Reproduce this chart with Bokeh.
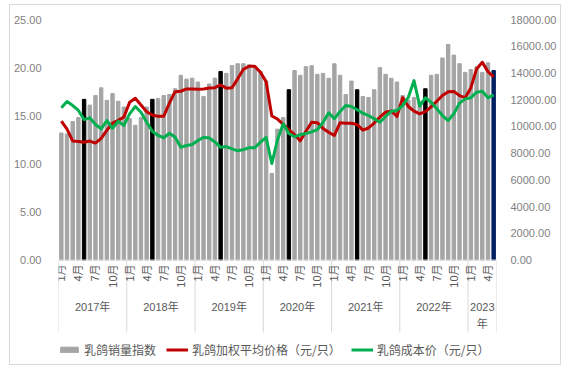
import math
from bokeh.plotting import figure
from bokeh.models import (Range1d, LinearAxis, FixedTicker, Legend, LegendItem,
                          ColumnDataSource, NumeralTickFormatter, Span)
from bokeh.embed import file_html
from bokeh.resources import INLINE
from bokeh.core.properties import value

# ---------------- data ----------------
years = ["2017年", "2018年", "2019年", "2020年", "2021年", "2022年", "2023\n年"]
months_per_year = [12, 12, 12, 12, 12, 12, 5]
shown_months = [1, 4, 7, 10]
series_names = ["乳鸽销量指数", "乳鸽加权平均价格（元/只）", "乳鸽成本价（元/只）"]

# 乳鸽销量指数 (left axis)
sales_index = [13.2, 13.1, 14.4, 14.8, 16.7, 16.1, 17.1, 17.9, 16.6, 17.3, 16.5, 15.9,
               14.7, 14.0, 14.8, 15.9, 16.7, 16.8, 17.1, 17.2, 17.8, 19.2, 18.8, 18.9,
               18.5, 17.0, 18.3, 18.9, 19.6, 19.4, 20.2, 20.4, 20.4, 20.3, 20.0, 19.6,
               18.6, 9.0, 13.6, 14.8, 17.7, 19.7, 19.2, 20.1, 20.2, 19.3, 19.4, 18.9,
               20.4, 19.2, 17.2, 18.6, 17.7, 17.0, 16.9, 17.7, 20.0, 19.3, 18.9, 18.5,
               17.1, 16.6, 16.9, 16.5, 17.8, 19.2, 19.3, 21.0, 22.4, 21.3, 20.4, 19.5,
               19.8, 20.1, 19.5, 20.5, 19.7]

# 乳鸽加权平均价格（元/只） (right axis)
avg_price = [10400, 9800, 8900, 8870, 8820, 8900, 8750, 9100, 9700, 10250, 10450, 10700,
             11800, 12100, 11600, 11100, 10850, 10750, 10760, 11750, 12600, 12630, 12800, 12800,
             12780, 12800, 12870, 12900, 13100, 12860, 12890, 13560, 14270, 14500, 14500, 14050,
             13350, 10780, 10550, 10150, 9750, 9380, 8920, 9630, 10310, 10280, 9850, 9560,
             9320, 10280, 10240, 10240, 10140, 9720, 9880, 10250, 10700, 11060, 11160, 10750,
             12150, 11490, 11140, 10940, 11100, 11460, 11880, 12310, 12600, 12620, 12300, 12150,
             12900, 14300, 14800, 14100, 13700]

# 乳鸽成本价（元/只） (right axis)
cost_price = [11400, 11860, 11560, 11190, 10510, 10640, 10140, 9820, 10440, 9860, 10390, 10070,
              10940, 11490, 11060, 10310, 9640, 9320, 9150, 9490, 9190, 8440, 8570, 8640,
              8940, 9190, 9130, 8840, 8430, 8490, 8320, 8170, 8260, 8400, 8400, 8820,
              9170, 7220, 9000, 10190, 9470, 9220, 9380, 9470, 9590, 9760, 10290, 11020,
              10570, 11120, 11560, 11490, 11250, 10990, 10810, 10570, 10310, 10740, 11140, 11190,
              11560, 12180, 13430, 11520, 12140, 11810, 11320, 10810, 10440, 10940, 11740, 12060,
              12140, 12560, 12630, 12140, 12360]

left_ticks = [0, 5, 10, 15, 20, 25]
right_ticks = [0, 2000, 4000, 6000, 8000, 10000, 12000, 14000, 16000, 18000]

# ---------------- derived ----------------
n = len(sales_index)
xs = list(range(n))
month_of = []
for cnt in months_per_year:
    month_of += list(range(1, cnt + 1))

GRAY, BLACK, NAVY = "#A5A5A5", "#000000", "#002060"
RED, GREEN = "#C00000", "#00B050"
colors = [BLACK if m == 5 else GRAY for m in month_of]
colors[-1] = NAVY

LEFT_MAX, RIGHT_MAX = left_ticks[-1], right_ticks[-1]
# layout in canvas px (canvas placed at page offset 10,5 inside a 1px border)
W, H = 552, 361
TOP_PX, ZERO_PX, BOT_PX = 14, 254.5, H
ppu = (ZERO_PX - TOP_PX) / LEFT_MAX
y_low = -(BOT_PX - ZERO_PX) / ppu

p = figure(width=W, height=H, output_backend="svg", toolbar_location=None,
           x_range=Range1d(-0.5, n - 0.5), y_range=Range1d(y_low, LEFT_MAX),
           x_axis_location=None, y_axis_location="left",
           min_border_left=48, min_border_right=66, min_border_top=TOP_PX,
           min_border_bottom=0)
p.extra_y_ranges = {"r": Range1d(y_low * RIGHT_MAX / LEFT_MAX, RIGHT_MAX)}
p.outline_line_color = None
p.xgrid.visible = False
p.ygrid.visible = False
p.background_fill_color = "white"
p.border_fill_color = "white"
p.styles = {"border": "1px solid #D9D9D9", "margin-left": "9px", "margin-top": "4px"}

NUM_FONT = "Liberation Sans, Noto Sans CJK SC"
CJK_FONT = "Noto Sans CJK SC"

ly = p.yaxis[0]
ly.ticker = FixedTicker(ticks=left_ticks)
ly.formatter = NumeralTickFormatter(format="0.00")
ly.axis_line_color = None
ly.major_tick_line_color = None
ly.minor_tick_line_color = None
ly.major_label_standoff = 11
ly.major_label_text_font = NUM_FONT
ly.major_label_text_font_size = "11px"
ly.major_label_text_color = "#7F7F7F"

ry = LinearAxis(y_range_name="r", ticker=FixedTicker(ticks=right_ticks),
                formatter=NumeralTickFormatter(format="0.00"))
ry.axis_line_color = None
ry.major_tick_line_color = None
ry.minor_tick_line_color = None
ry.major_label_standoff = 8
ry.major_label_text_font = NUM_FONT
ry.major_label_text_font_size = "11px"
ry.major_label_text_color = "#7F7F7F"
p.add_layout(ry, "right")

# baseline
p.add_layout(Span(location=0, dimension="width", line_color="#D9D9D9", line_width=1))

src = ColumnDataSource(dict(x=xs, sales=sales_index, price=avg_price, cost=cost_price,
                            color=colors))
bars = p.vbar(x="x", top="sales", width=0.6, color="color", source=src)
red = p.line(x="x", y="price", y_range_name="r", source=src, line_color=RED,
             line_width=3, line_join="round")
green = p.line(x="x", y="cost", y_range_name="r", source=src, line_color=GREEN,
               line_width=3, line_join="round")

# category separators
starts = [0]
for cnt in months_per_year:
    starts.append(starts[-1] + cnt)
sep_x = [s - 0.5 for s in starts]
sep_bottom = -72.5 / ppu
p.segment(x0=sep_x, x1=sep_x, y0=[0] * len(sep_x), y1=[sep_bottom] * len(sep_x),
          line_color="#D9D9D9", line_width=1)

# month labels
ml_x = [i for i in xs if month_of[i] in shown_months]
ml_t = [f"{month_of[i]}月" for i in ml_x]
p.text(x=ml_x, y=[-(4.5 / ppu)] * len(ml_x), text=ml_t, angle=math.pi / 2,
       text_align="right", text_baseline="middle", text_font=value(NUM_FONT),
       text_font_size="11px", text_color="#595959")

# year labels
yl_x = [starts[k] + (months_per_year[k] - 1) / 2 for k in range(len(years))]
p.text(x=yl_x, y=[-(41 / ppu)] * len(years), text=years, text_align="center",
       text_baseline="top", text_font=value(NUM_FONT), text_font_size="11px",
       text_color="#595959", text_line_height=1.4)

legend = Legend(items=[
    LegendItem(label=series_names[0], renderers=[bars], index=0),
    LegendItem(label=series_names[1], renderers=[red]),
    LegendItem(label=series_names[2], renderers=[green]),
], orientation="horizontal", location=(0, 8), glyph_width=22, glyph_height=7,
    label_standoff=4, spacing=10, padding=0, margin=0, border_line_color=None,
    background_fill_alpha=0, label_text_font=CJK_FONT, label_text_font_size="12px",
    label_text_color="#595959")
p.add_layout(legend, "center")

open("out.html", "w").write(file_html(p, INLINE))
